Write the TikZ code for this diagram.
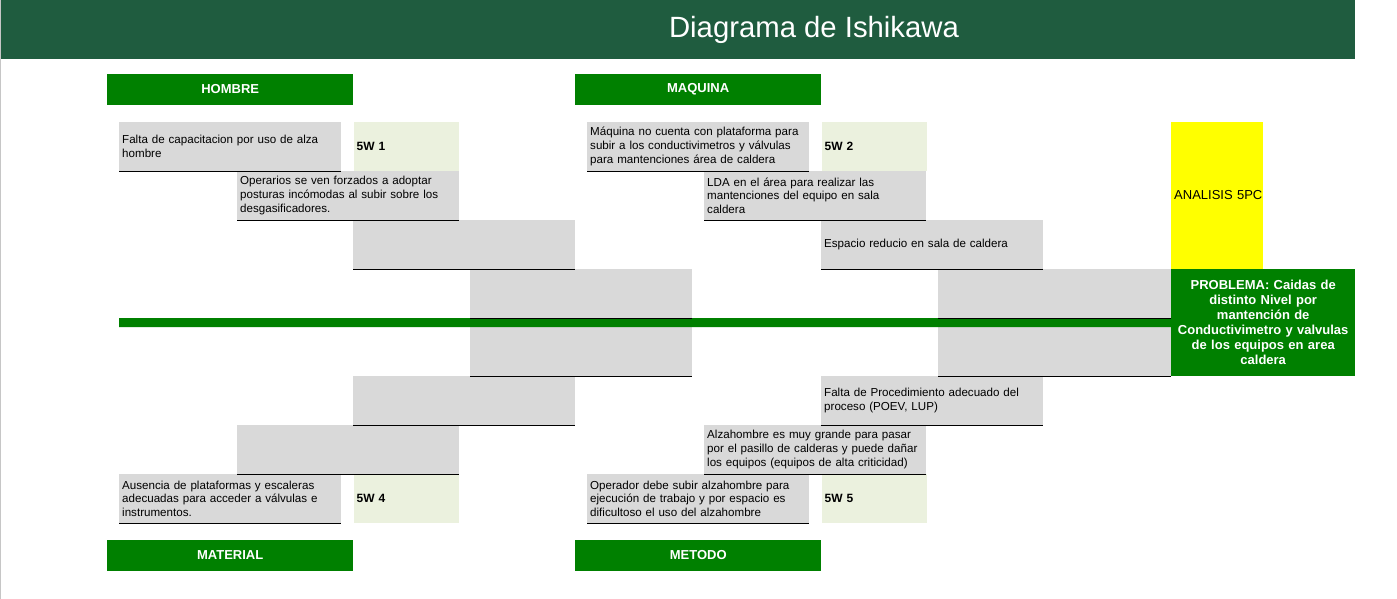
\documentclass[tikz,border=0pt]{standalone}
\usepackage{fontspec}
\setmainfont{Liberation Sans}
\usepackage{tikz}
\usetikzlibrary{positioning}
\definecolor{barGreen}{RGB}{31,92,63}
\definecolor{catGreen}{RGB}{0,128,0}
\definecolor{cellGrey}{RGB}{217,217,217}
\definecolor{whyGreen}{RGB}{235,241,222}
\definecolor{pcYellow}{RGB}{255,255,0}

\begin{document}
\begin{tikzpicture}[
    x=1pt,y=-1pt,
    cat/.style={fill=catGreen,text=white,anchor=north west,inner sep=0pt,
      minimum width=246pt,minimum height=30.5pt,font=\fontsize{13}{15}\selectfont\bfseries},
    cause/.style={fill=cellGrey,anchor=north west,inner xsep=3pt,inner ysep=1pt,
      text width=#1,minimum height=49pt,align=left,font=\fontsize{11.6}{13.8}\selectfont},
    cause/.default=216pt,
    why/.style={fill=whyGreen,inner xsep=3pt,inner ysep=1pt,text width=99pt,
      minimum height=49pt,align=left,font=\fontsize{12}{13.8}\selectfont\bfseries},
    rule/.style={line width=1.2pt,black},
    spine/.style={line width=9pt,catGreen}
  ]
  \fill[white] (0,0) rectangle (1397,599);
  \useasboundingbox (0,0) rectangle (1397,599);
  \draw[gray!45,line width=1pt] (0.5,0) -- (0.5,599);

  % Title
  \fill[barGreen] (1,0) rectangle (1355,59);
  \node[text=white,font=\fontsize{29.3}{33}\selectfont] (title) at (814,29.5) {Diagrama de Ishikawa};

  % Categories
  \node[cat] (hombre) at (107,74) {HOMBRE};
  \node[cat] (maquina) at (575,74) {MAQUINA};
  \node[cat] (material) at (107,540) {MATERIAL};
  \node[cat] (metodo) at (575,540) {METODO};

  % HOMBRE
  \node[cause] (hom1) at (119,122) {Falta de capacitacion por uso de alza\\hombre};
  \node[why,right=12pt of hom1] (w1) {5W 1};
  \node[cause] (hom2) at (237,171) {Operarios se ven forzados a adoptar\\posturas incómodas al subir sobre los\\desgasificadores.};
  \node[cause] (hom3) at (353,220) {};
  \node[cause] (hom4) at (470,269) {};

  % MATERIAL
  \node[cause] (mat4) at (470,327) {};
  \node[cause] (mat3) at (353,376) {};
  \node[cause] (mat2) at (237,425) {};
  \node[cause] (mat1) at (119,474) {Ausencia de plataformas y escaleras\\adecuadas para acceder a válvulas e\\instrumentos.};
  \node[why,right=12pt of mat1] (w4) {5W 4};

  % MAQUINA
  \node[cause] (maq1) at (587,122) {Máquina no cuenta con plataforma para\\subir a los conductivimetros y válvulas\\para mantenciones área de caldera};
  \node[why,right=12pt of maq1] (w2) {5W 2};
  \node[cause] (maq2) at (704,171) {LDA en el área para realizar las\\mantenciones del equipo en sala\\caldera};
  \node[cause] (maq3) at (821,220) {Espacio reducio en sala de caldera};
  \node[cause=227pt] (maq4) at (938,269) {};

  % METODO
  \node[cause=227pt] (met4) at (938,327) {};
  \node[cause] (met3) at (821,376) {Falta de Procedimiento adecuado del\\proceso (POEV, LUP)};
  \node[cause] (met2) at (704,425) {Alzahombre es muy grande para pasar\\por el pasillo de calderas y puede dañar\\los equipos (equipos de alta criticidad)};
  \node[cause] (met1) at (587,474) {Operador debe subir alzahombre para\\ejecución de trabajo y por espacio es\\dificultoso el uso del alzahombre};
  \node[why,right=12pt of met1] (w5) {5W 5};

  % Problem and 5PC
  \node[fill=catGreen,text=white,anchor=north west,inner sep=0pt,
    minimum width=184pt,minimum height=107pt,text width=178pt,align=center,
    font=\fontsize{13}{15}\selectfont\bfseries] (prob) at (1171,269)
    {PROBLEMA: Caidas de\\distinto Nivel por\\mantención de\\Conductivimetro y valvulas\\de los equipos en area\\caldera};
  \node[fill=pcYellow,anchor=south west,inner xsep=3pt,inner ysep=0pt,
    text width=86pt,minimum height=147pt,align=left,
    font=\fontsize{13}{15}\selectfont] (pc) at (prob.north west) {\mbox{ANALISIS 5PC}};

  % Spine
  \coordinate (spine) at (119,322.5);
  \draw[spine] (spine) -- (prob.west);

  % Underlines
  \draw[rule] (hom1.south west) -- (hom1.south east);
  \draw[rule] (hom2.south west) -- (hom2.south east);
  \draw[rule] (hom3.south west) -- (hom3.south east);
  \draw[rule] (hom4.south west) -- (hom4.south east);
  \draw[rule] (mat4.south west) -- (mat4.south east);
  \draw[rule] (mat3.south west) -- (mat3.south east);
  \draw[rule] (mat2.south west) -- (mat2.south east);
  \draw[rule] (mat1.south west) -- (mat1.south east);
  \draw[rule] (maq1.south west) -- (maq1.south east);
  \draw[rule] (maq2.south west) -- (maq2.south east);
  \draw[rule] (maq3.south west) -- (maq3.south east);
  \draw[rule] (maq4.south west) -- (maq4.south east);
  \draw[rule] (met4.south west) -- (met4.south east);
  \draw[rule] (met3.south west) -- (met3.south east);
  \draw[rule] (met2.south west) -- (met2.south east);
  \draw[rule] (met1.south west) -- (met1.south east);
\end{tikzpicture}
\end{document}
